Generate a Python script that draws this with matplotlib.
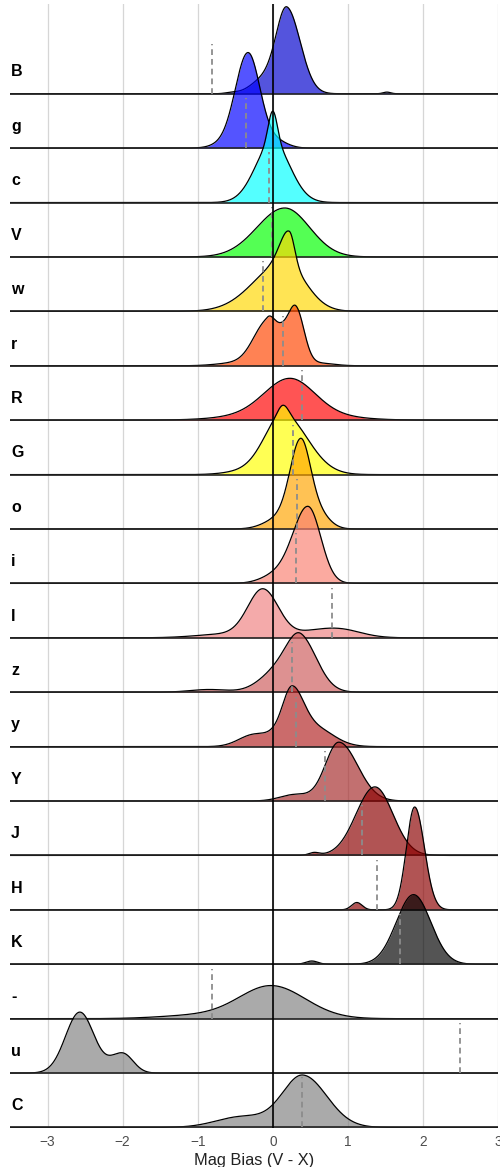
import numpy as np
import matplotlib
matplotlib.use("Agg")
import matplotlib.pyplot as plt
from matplotlib.transforms import blended_transform_factory

plt.rcParams['font.family'] = ['Liberation Sans', 'DejaVu Sans']

# Row labels, top to bottom
labels = ['B', 'g', 'c', 'V', 'w', 'r', 'R', 'G', 'o', 'i',
          'I', 'z', 'y', 'Y', 'J', 'H', 'K', '-', 'u', 'C']

# Fill colours (drawn with alpha)
fill_colors = ['#0000CD', '#0000FF', '#00FFFF', '#00FF00', '#FFD700',
               '#FF4500', '#FF0000', '#FFFF00', '#FFA500', '#FA8072',
               '#F08080', '#CD5C5C', '#B22222', '#A52A2A', '#8B0000',
               '#8B0000', '#000000', '#808080', '#808080', '#808080']

# Dashed reference value per row
dashed_x = [-0.805, -0.36, -0.05, -0.01, -0.13, 0.13, 0.395, 0.275, 0.32, 0.31,
            0.795, 0.25, 0.31, 0.70, 1.195, 1.39, 1.70, -0.81, 2.5, 0.39]

# Ridge shapes: (centre, left sd, right sd, height in rows)
comp_B = [(0.19, 0.14, 0.18, 1.52), (-0.10, 0.18, 0.18, 0.28), (-0.55, 0.08, 0.08, 0.02), (1.52, 0.05, 0.05, 0.03)]
comp_g = [(-0.33, 0.17, 0.16, 1.75), (0.05, 0.15, 0.15, 0.12), (-0.70, 0.15, 0.15, 0.05)]
comp_c = [(0.0, 0.23, 0.23, 1.10), (0.0, 0.06, 0.06, 0.58)]
comp_V = [(0.16, 0.37, 0.33, 0.90)]
comp_w = [(0.22, 0.12, 0.07, 0.60), (0.15, 0.40, 0.28, 0.90)]
comp_r = [(-0.07, 0.185, 0.10, 0.80), (0.12, 0.10, 0.10, 0.50), (0.31, 0.10, 0.108, 1.00), (-0.5, 0.25, 0.25, 0.05), (0.6, 0.2, 0.2, 0.05)]
comp_R = [(0.23, 0.33, 0.32, 0.60), (0.20, 0.60, 0.60, 0.17)]
comp_G = [(0.14, 0.25, 0.32, 1.10), (0.14, 0.07, 0.07, 0.17), (-0.40, 0.25, 0.25, 0.05)]
comp_o = [(0.37, 0.14, 0.13, 1.50), (0.10, 0.20, 0.20, 0.20), (0.60, 0.15, 0.15, 0.28)]
comp_i = [(0.47, 0.20, 0.17, 1.40), (0.05, 0.20, 0.20, 0.15)]
comp_I = [(-0.13, 0.20, 0.21, 0.88), (-0.60, 0.40, 0.30, 0.07), (0.85, 0.30, 0.30, 0.17), (0.45, 0.20, 0.20, 0.05)]
comp_z = [(0.38, 0.18, 0.22, 0.85), (0.10, 0.25, 0.25, 0.42), (-0.85, 0.25, 0.25, 0.05)]
comp_y = [(0.26, 0.12, 0.15, 0.85), (0.55, 0.22, 0.25, 0.35), (-0.25, 0.20, 0.20, 0.22), (0.10, 0.15, 0.15, 0.20)]
comp_Y = [(0.88, 0.18, 0.25, 1.08), (0.30, 0.20, 0.20, 0.12)]
comp_J = [(1.36, 0.25, 0.24, 1.26), (0.55, 0.07, 0.07, 0.05)]
comp_H = [(1.89, 0.11, 0.13, 1.89), (1.12, 0.07, 0.07, 0.135)]
comp_K = [(1.875, 0.23, 0.23, 1.28), (0.52, 0.08, 0.08, 0.06)]
comp_dash = [(-0.015, 0.43, 0.45, 0.60), (-1.0, 0.50, 0.50, 0.06)]
comp_u = [(-2.57, 0.19, 0.19, 1.12), (-2.0, 0.16, 0.14, 0.36)]
comp_C = [(0.40, 0.27, 0.32, 0.95), (-0.40, 0.35, 0.35, 0.20)]

components = [comp_B, comp_g, comp_c, comp_V, comp_w, comp_r, comp_R, comp_G,
              comp_o, comp_i, comp_I, comp_z, comp_y, comp_Y, comp_J, comp_H,
              comp_K, comp_dash, comp_u, comp_C]

x_ticks = [-3, -2, -1, 0, 1, 2, 3]
x_label = 'Mag Bias (V - X)'


def ridge(xs, comps):
    out = np.zeros_like(xs)
    for mu, sl, sr, amp in comps:
        s = np.where(xs < mu, sl, sr)
        out += amp * np.exp(-0.5 * ((xs - mu) / s) ** 2)
    return out


xmin, xmax = -3.5, 3.0
xs = np.linspace(xmin, xmax, 2001)
n = len(labels)

fig = plt.figure(figsize=(5.0, 11.67), dpi=100)
ax = fig.add_axes([0.02, 0.0334, 0.976, 0.9632])
ax.set_xlim(xmin, xmax)
ax.set_ylim(-0.01, 20.65)

for i, lab in enumerate(labels):
    base = n - 1 - i
    h = ridge(xs, components[i])
    z = 2 + i * 0.1
    ax.fill_between(xs, base, base + h, color=fill_colors[i], alpha=0.67,
                    linewidth=0, zorder=z)
    ax.plot(xs, base + h, color='black', lw=0.9, zorder=z + 0.02)
    ax.plot([xmin, xmax], [base, base], color='#222222', lw=1.2, zorder=z + 0.03)

for i in range(n):
    base = n - 1 - i
    ax.plot([dashed_x[i], dashed_x[i]], [base, base + 0.92], color='#8c8c8c',
            lw=1.3, linestyle=(0, (3.2, 2.2)), zorder=10)

ax.axvline(0, color='black', lw=1.2, zorder=11)

trans = blended_transform_factory(ax.transAxes, ax.transData)
for i, lab in enumerate(labels):
    base = n - 1 - i
    ax.text(0.002, base + 0.4, lab, transform=trans, ha='left', va='center',
            fontsize=11.5, fontweight='bold', color='black', zorder=12)

ax.set_xticks(x_ticks)
ax.set_xticklabels([f'{t}'.replace('-', '\u2212') for t in x_ticks])
ax.tick_params(axis='x', length=0, pad=4.8, labelsize=9.8, labelcolor='#4d4d4d')
ax.set_yticks([])
ax.grid(axis='x', color='#d6d6d6', lw=0.9, zorder=0)
ax.set_axisbelow(True)
for s in ax.spines.values():
    s.set_visible(False)
ax.set_xlabel(x_label, fontsize=11.8, color='#222222')
ax.xaxis.set_label_coords(0.5, -0.0225)

fig.savefig('out.png', dpi=100)
